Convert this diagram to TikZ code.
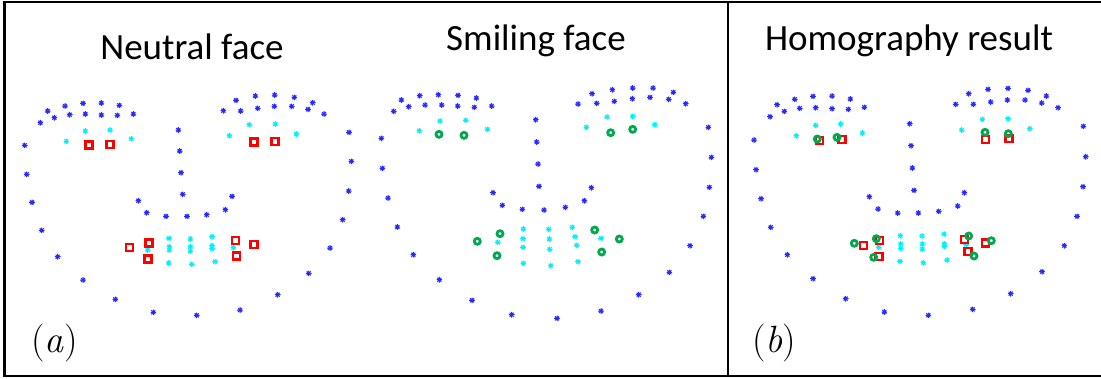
\documentclass[tikz,border=0pt]{standalone}
\usepackage{fontspec}
\newfontfamily\titlefont{Carlito}
\newfontfamily\labfont{Latin Modern Roman}
\usetikzlibrary{positioning}
\definecolor{markblue}{RGB}{40,40,255}
\definecolor{markcyan}{RGB}{0,240,255}
\definecolor{markred}{RGB}{255,0,0}
\definecolor{markgreen}{RGB}{0,168,80}

\tikzset{
  astmark/.pic={\draw (-2.8,0) -- (2.8,0) (0,-2.8) -- (0,2.8) (-2,-2) -- (2,2) (-2,2) -- (2,-2);},
  bluemk/.style={draw=markblue, line width=1pt},
  cyanmk/.style={draw=markcyan, line width=1pt},
  redsq/.style={draw=markred, line width=2.3pt},
  greenring/.style={draw=markgreen, line width=2.8pt},
  title/.style={font=\titlefont\fontsize{37}{42}\selectfont, anchor=base, inner sep=0pt},
  panel/.style={font=\labfont\fontsize{38}{44}\selectfont, anchor=base west, inner sep=0pt},
  frame/.style={line width=2.6pt, black}
}

\begin{document}
\begin{tikzpicture}[x=1pt,y=-1pt]
  \useasboundingbox (0,0) rectangle (1101,378);

  % frame and divider
  \draw[frame] (1102,2) -- (4.5,2) -- (4.5,376) -- (1102,376);
  \draw[frame] (728,2) -- (728,376);

  % titles and panel labels
  \node[title] (neutral) at (192,59) {Neutral face};
  \node[title] (smiling) at (536,50) {Smiling face};
  \node[title] (homog) at (909,50) {Homography result};
  \node[panel] (labela) at (31,352) {(\textit{a})};
  \node[panel] (labelb) at (752,352) {(\textit{b})};

  % blue landmarks (brows, contour, nose)
  \foreach \x/\y in {47.7/111, 65/106, 83/103.3, 101.3/103, 119.3/105.3,
      40.3/122.7, 54.3/117.7, 69.7/114.7, 85.3/114, 101.3/115, 117.3/115.3, 133.3/114,
      236/100.3, 255.3/96, 274.7/95, 294.3/97.3, 312.7/102.7,
      223.3/110.7, 240.7/111, 257.7/108.3, 274.3/106.3, 291.7/106.3, 308/109.3, 324/114,
      24.7/145.3, 26.7/174.3, 32/202.3, 41.7/230.3, 57.7/256.7, 83/280, 115.3/299.3, 153.3/312.3,
      196.7/315.3, 240/310, 277.7/294.7, 308.7/273.3, 330/248, 342.7/219.7, 348.7/191, 351.3/161.3, 349/132.3,
      178.3/130, 179.7/151, 181/172.7, 182.7/194.3,
      138.3/200.7, 146.7/212.7, 166/216.3, 187/216.3, 206.7/214.7, 225.3/209.7, 232/196.3,
      % smiling
      401.3/100, 419.7/95.7, 438.3/94.7, 458/95.3, 476.3/98,
      393.7/111.3, 408.7/106.7, 425/105, 441.7/105, 457.7/106, 474.3/107.3, 491.7/106,
      592/93.7, 612.3/89.7, 632.7/88, 653/88, 673.3/92.3,
      578/104, 596.7/103.3, 614.3/101.3, 632.3/98.7, 650/97.3, 668.7/99.3, 685.7/103.7,
      381.3/138.3, 382.3/168.3, 388/198, 397.3/227, 413.3/254.7, 439.3/279.7, 472/300.3, 511.7/314.7,
      557/318.3, 601/311, 638.7/294.7, 669.3/272.3, 690/245.7, 703.3/216.3, 709.3/187.3, 711.3/157.3, 708.3/127.3,
      535.7/119.7, 536.7/142, 538/164, 539/186.3,
      493/192.7, 502.3/205.3, 522.3/209.3, 544/210, 565.3/207.3, 584.3/200.7, 591.3/187.7,
      % homography
      777/104.7, 794.7/99.3, 813/96.3, 832/96, 850.3/99,
      770/116.7, 784.3/111.3, 799.7/108.3, 815.7/107.7, 832/108.7, 848.3/109.3, 864.3/107.3,
      968.7/93.7, 988/89.3, 1008/88.3, 1028/90.3, 1046.3/96,
      955.7/104.3, 973.3/104.3, 990.7/102, 1007.3/100, 1025/100, 1041.7/103, 1058/107.7,
      754/140, 756/169.7, 761/198.7, 770.7/227.3, 787.3/254.7, 813/278.7, 845.7/298.7, 884.3/312,
      928.3/315.3, 972.7/309.3, 1010.7/293.7, 1042/271.7, 1064.3/245.7, 1077/216.3, 1083/186.7, 1085.7/156.7, 1083.3/126.3,
      909.7/123.7, 911/145.7, 912.3/168, 914/190.3,
      869.3/196.7, 878/209, 897.7/213, 918.3/213, 938.7/211.3, 957.7/206, 964.3/192.7}
    \pic[bluemk] at (\x,\y) {astmark};

  % cyan landmarks (eyes, mouth)
  \foreach \x/\y in {85.3/131, 110/130, 66.3/141.3, 131.3/138.7,
      249.3/124.7, 275.3/124, 229.3/135.7, 296.3/134,
      169/238.3, 190.3/239, 212/236.7, 147.7/250, 169.3/246.7, 169.3/250, 190.3/246.7, 190.3/251.3,
      212/245.7, 212/248.7, 233.3/247.7, 168.7/263, 191.7/264.3, 215/261.7,
      440/121, 465.7/120.3, 419.3/130.7, 487.3/129.3,
      607/117, 632.7/116.3, 586.3/127.3, 654.7/124.7,
      523.3/229, 548.7/229.3, 572.3/227.3, 497.7/242.3, 523/238.7, 523/247.3, 549.3/239, 549.7/249.3,
      575/236.7, 576.7/245.3, 601/238.3, 523.3/263.3, 550.7/265.7, 578/261.7,
      815.7/125.3, 840.7/124, 796.3/135.7, 862.3/133,
      982.3/119.3, 1008/118.7, 961.7/130, 1029.7/128.7,
      900.3/235.7, 922/236, 944/234, 878.7/247.3, 900.7/244, 900.7/248.3, 922.3/244, 922.3/249,
      944.3/243.7, 944.3/246.3, 966/244.3, 900/261.3, 923.3/262.7, 947/260}
    \pic[cyanmk] at (\x,\y) {astmark};

  % chosen points on the neutral face
  \foreach \x/\y in {89/145, 110/144.3, 254/142, 275/141.7,
      129.7/247.7, 149/243, 148/259, 235.3/240.3, 254/244.3, 236.7/256,
      819.3/140.7, 842/139.3, 985.7/139.3, 1009/138.3,
      863.7/245.7, 879.7/240.7, 879/256.3, 964.3/239.3, 985.3/243, 968/251.7}
    \draw[redsq] (\x,\y) +(-3.5,-3.5) rectangle +(3.5,3.5);

  % matching points on the smiling face
  \foreach \x/\y in {439/134.3, 464/135.3, 610.7/132.7, 632.7/129.3,
      477.3/241.3, 500/233.7, 497/255.7, 594.7/230, 619.3/239, 601.7/252,
      817.3/139, 837/137.3, 985/132.3, 1008.3/133.7,
      854.3/243.3, 876.3/238.7, 873.7/257.3, 968.7/236, 991.3/240.7, 974/256}
    \draw[greenring] (\x,\y) circle (3);
\end{tikzpicture}
\end{document}
